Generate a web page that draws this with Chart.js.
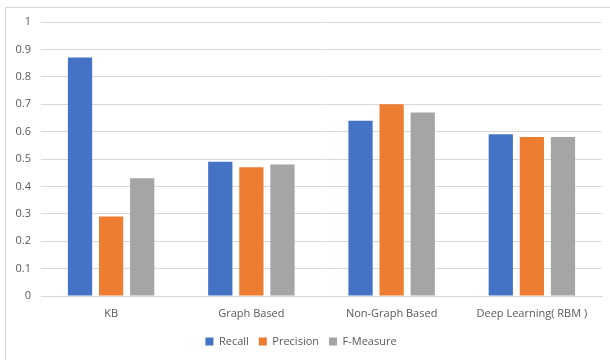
<!DOCTYPE html>
<html>
<head>
<meta charset="utf-8">
<script src="https://cdn.jsdelivr.net/npm/chart.js@4"></script>
<style>
  html,body{margin:0;padding:0;background:#fff;}
  #wrap{position:relative;width:610px;height:360px;overflow:hidden;}
  #frame{position:absolute;left:5px;top:7px;width:700px;height:400px;border-left:1px solid #d9d9d9;border-top:1px solid #d9d9d9;}
  canvas{position:absolute;left:0;top:0;}
</style>
</head>
<body>
<div id="wrap">
  <div id="frame"></div>
  <canvas id="chart" width="610" height="360"></canvas>
</div>
<script>
// categories and series
const categories = ['KB', 'Graph Based', 'Non-Graph Based', 'Deep Learning( RBM )'];
const recall = [0.87, 0.49, 0.64, 0.59];
const precision = [0.29, 0.47, 0.70, 0.58];
const fMeasure = [0.43, 0.48, 0.67, 0.58];
const seriesNames = ['Recall', 'Precision', 'F-Measure'];
const seriesColors = ['#4472C4', '#ED7D31', '#A5A5A5'];

const txt = '#595959';
const fontFam = "'Open Sans', 'Liberation Sans', sans-serif";

function makeSet(i, data){
  return {
    label: seriesNames[i], data: data,
    backgroundColor: seriesColors[i],
    borderWidth: 0,
    categoryPercentage: 0.665, barPercentage: 0.78
  };
}

new Chart(document.getElementById('chart'), {
  type: 'bar',
  data: {
    labels: categories,
    datasets: [makeSet(0, recall), makeSet(1, precision), makeSet(2, fMeasure)]
  },
  options: {
    responsive: false, animation: false,
    layout: {padding: {left: 0, right: 8, top: 22, bottom: 3}},
    plugins: {
      legend: {
        position: 'bottom',
        labels: {boxWidth: 8, boxHeight: 8, padding: 10, color: txt, font: {family: fontFam, size: 11}}
      },
      tooltip: {enabled: false}
    },
    scales: {
      x: {
        grid: {display: false, drawTicks: false},
        border: {display: true, color: '#d9d9d9', width: 1},
        ticks: {color: txt, padding: 11, font: {family: fontFam, size: 11}, maxRotation: 0},
        afterFit: s => { s.height = 30; }
      },
      y: {
        min: 0, max: 1,
        grid: {color: '#d9d9d9', drawTicks: false},
        border: {display: false},
        ticks: {stepSize: 0.1, color: txt, padding: 10, font: {family: fontFam, size: 11},
          callback: v => Math.round(v * 10) / 10},
        afterFit: s => { s.width = 41; }
      }
    }
  }
});
</script>
</body>
</html>
